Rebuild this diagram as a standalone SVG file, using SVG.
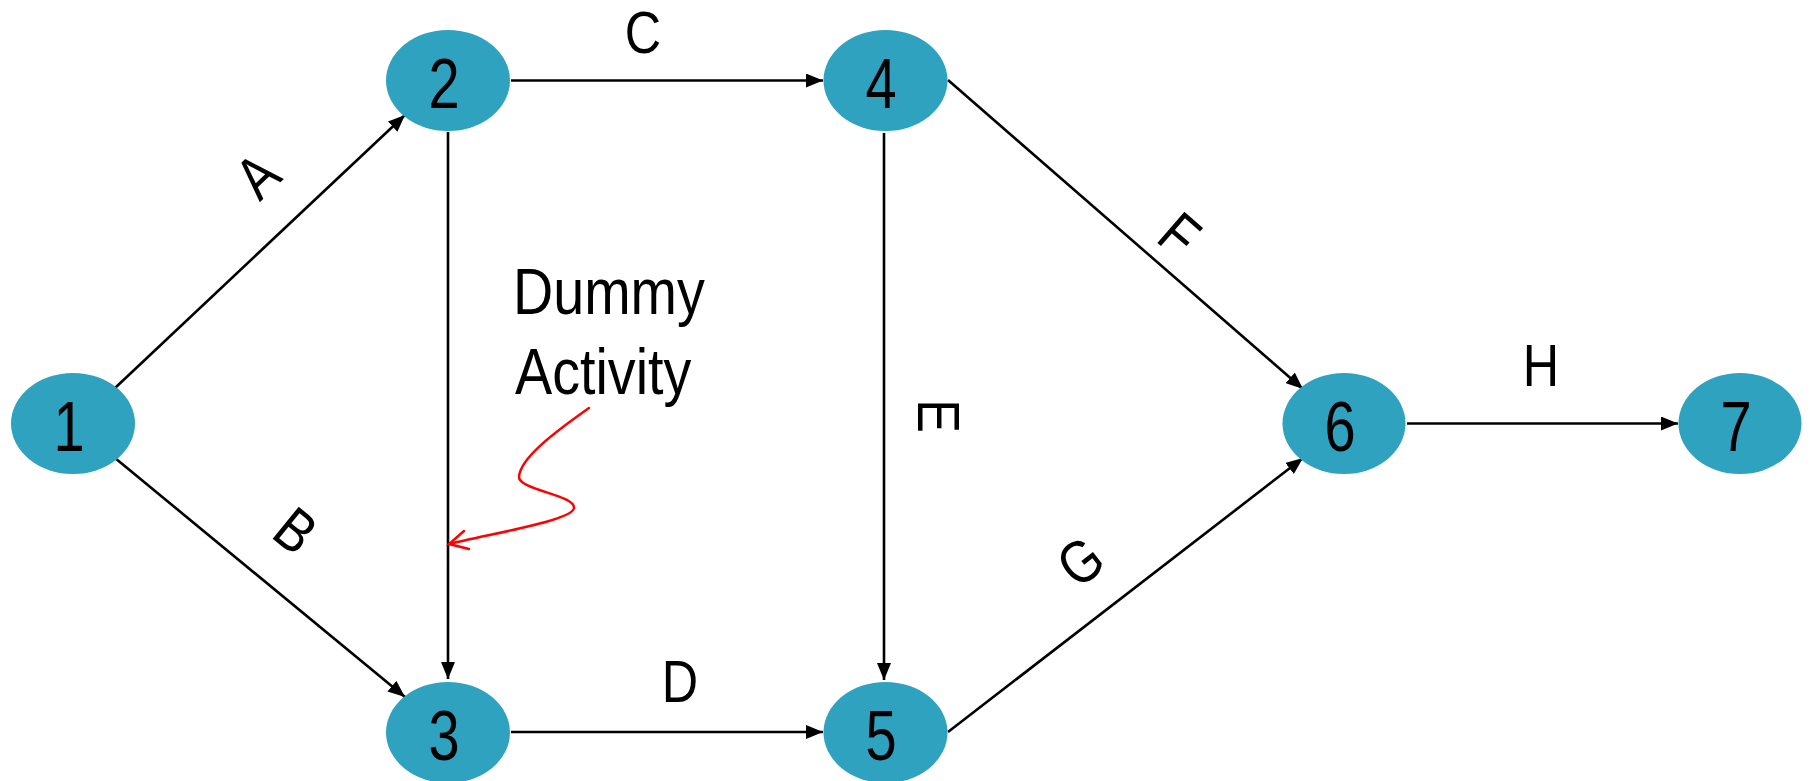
<svg xmlns="http://www.w3.org/2000/svg" width="1810" height="781" viewBox="0 0 1810 781">
  <style>
    .node { fill: #2ea2bf; }
    .num { font-family: "Liberation Sans", Arial, sans-serif; font-size: 70px; fill: #000; text-anchor: middle; }
    .lbl { font-family: "Liberation Sans", Arial, sans-serif; font-size: 60px; fill: #000; text-anchor: middle; }
    .note { font-family: "Liberation Sans", Arial, sans-serif; font-size: 64px; fill: #000; }
    .edge { stroke: #000; stroke-width: 2.6; fill: none; marker-end: url(#arrow); }
    .pointer { stroke: #ff0000; stroke-width: 2.5; fill: none; stroke-linecap: round; }
  </style>
  <defs>
    <marker id="arrow" markerUnits="userSpaceOnUse" markerWidth="18" markerHeight="14" refX="17" refY="7" orient="auto">
      <path d="M0,0 L17,7 L0,14 z" fill="#000"/>
    </marker>
  </defs>

  <rect width="1810" height="781" fill="#fff"/>

  <!-- activity arrows -->
  <g id="connectors">
    <line class="edge" x1="115" y1="388" x2="405" y2="115"/>
    <line class="edge" x1="115" y1="458" x2="405" y2="697"/>
    <line class="edge" x1="511" y1="80.5" x2="823" y2="80.5"/>
    <line class="edge" x1="448" y1="132" x2="448" y2="679"/>
    <line class="edge" x1="511" y1="732" x2="823" y2="732"/>
    <line class="edge" x1="884" y1="133" x2="884" y2="680"/>
    <line class="edge" x1="948" y1="80" x2="1303" y2="389"/>
    <line class="edge" x1="948" y1="732" x2="1303" y2="458"/>
    <line class="edge" x1="1407" y1="423.5" x2="1678" y2="423.5"/>

    <!-- activity labels, written along each arrow -->
    <text class="lbl" transform="translate(257,175) rotate(-44) scale(0.84,1)" y="21.5">A</text>
    <text class="lbl" transform="translate(296,530) rotate(39) scale(0.84,1)" y="21.5">B</text>
    <text class="lbl" transform="translate(643,52.5) scale(0.84,1)">C</text>
    <text class="lbl" transform="translate(680,702) scale(0.84,1)">D</text>
    <text class="lbl" transform="translate(939.5,416) rotate(90) scale(0.84,1)" y="21.5">E</text>
    <text class="lbl" transform="translate(1180,234) rotate(41) scale(0.84,1)" y="21.5">F</text>
    <text class="lbl" transform="translate(1080,561) rotate(-38) scale(0.84,1)" y="21.5">G</text>
    <text class="lbl" transform="translate(1541,386) scale(0.84,1)">H</text>
  </g>

  <!-- dummy activity callout -->
  <g id="dummy-note">
    <text class="note" transform="translate(513,314) scale(0.87,1)">Dummy</text>
    <text class="note" transform="translate(515,394) scale(0.87,1)">Activity</text>
    <path class="pointer" d="M589,408 C555,432 520,458 519,477 C519,490 575,495 574,508 C573,520 500,532 449,544"/>
    <path class="pointer" d="M464,531 L449,544 L469,549"/>
  </g>

  <!-- events -->
  <g id="node-1">
    <ellipse class="node" cx="73" cy="423.5" rx="62" ry="50.5"/>
    <text class="num" transform="translate(69,451) scale(0.8,1)">1</text>
  </g>
  <g id="node-2">
    <ellipse class="node" cx="448" cy="80.5" rx="62" ry="50.5"/>
    <text class="num" transform="translate(444,108) scale(0.8,1)">2</text>
  </g>
  <g id="node-3">
    <ellipse class="node" cx="448" cy="732.5" rx="62" ry="50.5"/>
    <text class="num" transform="translate(444,760) scale(0.8,1)">3</text>
  </g>
  <g id="node-4">
    <ellipse class="node" cx="885.5" cy="80.5" rx="62" ry="50.5"/>
    <text class="num" transform="translate(881,108) scale(0.8,1)">4</text>
  </g>
  <g id="node-5">
    <ellipse class="node" cx="885.5" cy="732.5" rx="62" ry="50.5"/>
    <text class="num" transform="translate(881,760) scale(0.8,1)">5</text>
  </g>
  <g id="node-6">
    <ellipse class="node" cx="1344" cy="423.5" rx="61.5" ry="50.5"/>
    <text class="num" transform="translate(1340,451) scale(0.8,1)">6</text>
  </g>
  <g id="node-7">
    <ellipse class="node" cx="1740" cy="423.5" rx="61.5" ry="50.5"/>
    <text class="num" transform="translate(1736,451) scale(0.8,1)">7</text>
  </g>
</svg>
